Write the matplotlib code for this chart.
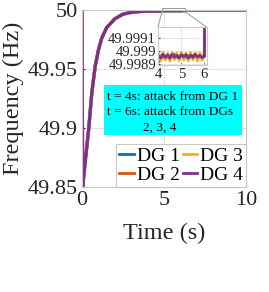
import matplotlib
matplotlib.use("Agg")
import matplotlib.pyplot as plt
from matplotlib.patches import Rectangle
from matplotlib.lines import Line2D

plt.rcParams['font.family'] = ['Liberation Serif', 'DejaVu Serif']

# values
t_main = [0.0, 0.04, 0.2, 0.4, 0.6, 0.8, 1.0, 1.2, 1.5, 2.0, 2.5, 3.0, 3.5, 4.0,
          6.0, 6.1, 7.0, 8.0, 9.0, 10.0]
f_main = [50.0, 49.85, 49.872, 49.898, 49.930, 49.952, 49.966, 49.976, 49.985,
          49.9925, 49.9965, 49.998, 49.9987, 49.999, 49.999, 50.0, 50.0, 50.0,
          50.0, 50.0]

labels = ["DG 1", "DG 2", "DG 3", "DG 4"]
colors = ["#0072BD", "#D95319", "#EDB120", "#7E2F8E"]

t_zoom = [4.0, 4.1, 4.2, 4.3, 4.4, 4.5, 4.6, 4.7, 4.8, 4.9, 5.0, 5.1, 5.2,
          5.3, 5.4, 5.5, 5.6, 5.7, 5.8, 5.9, 6.0, 6.03]
f_dg1 = [49.998915, 49.998955, 49.998960, 49.998950, 49.998965, 49.998940,
         49.998960, 49.998975, 49.998950, 49.998960, 49.998955, 49.998965,
         49.998945, 49.998960, 49.998950, 49.998965, 49.998955, 49.998960,
         49.998950, 49.998960, 49.998955, 50.0]
f_dg2 = [49.998950, 49.998965, 49.998945, 49.998960, 49.998950, 49.998965,
         49.998955, 49.998950, 49.998965, 49.998945, 49.998960, 49.998950,
         49.998965, 49.998955, 49.998960, 49.998945, 49.998960, 49.998950,
         49.998965, 49.998955, 49.998960, 50.0]
f_dg3 = [49.998985, 49.998925, 49.998990, 49.998930, 49.998982, 49.998922,
         49.998988, 49.998932, 49.998984, 49.998926, 49.998990, 49.998930,
         49.998982, 49.998924, 49.998988, 49.998930, 49.998986, 49.998922,
         49.998984, 49.998928, 49.998988, 50.0]
f_dg4 = [49.998960, 49.998946, 49.998974, 49.998950, 49.998968, 49.998944,
         49.998974, 49.998952, 49.998966, 49.998946, 49.998972, 49.998954,
         49.998972, 49.998946, 49.998968, 49.998950, 49.998974, 49.998952,
         49.998966, 49.998948, 49.998962, 50.0]
zoom_series = [f_dg1, f_dg2, f_dg3, f_dg4]

W, H = 269, 292
fig = plt.figure(figsize=(W / 100, H / 100), dpi=100)
ax = fig.add_axes([82 / W, 1 - 187 / H, 164 / W, 177 / H])

for lab, c in zip(labels, colors):
    ax.plot(t_main, f_main, color=c, lw=2.3, label=lab)

ax.set_xlim(0, 10)
ax.set_ylim(49.85, 50.0)
ax.set_xticks([0, 5, 10])
ax.set_yticks([49.85, 49.9, 49.95, 50])
ax.set_yticklabels(["49.85", "49.9", "49.95", "50"])
ax.grid(True, color="#e3e3e3", lw=0.7)
ax.tick_params(labelsize=16, colors="#262626", direction="in", length=2, pad=3)
for s in ax.spines.values():
    s.set_color("#c8c8c8")
    s.set_linewidth(0.8)
ax.set_xlabel("Time (s)", fontsize=17.5, color="#262626")
ax.set_ylabel("Frequency (Hz)", fontsize=17.5, color="#262626")
ax.xaxis.set_label_coords(0.5, -0.2)
ax.yaxis.set_label_coords(-0.355, 0.5)

leg = ax.legend(ncol=2, loc="lower right", bbox_to_anchor=(1.0, 0.0),
                borderaxespad=0, fontsize=14, handlelength=0.75,
                handletextpad=0.15, columnspacing=0.15, labelspacing=0.1,
                borderpad=0.15, fancybox=False, framealpha=1)
leg.get_frame().set_edgecolor("#c8c8c8")
leg.get_frame().set_linewidth(0.8)
for line in leg.get_lines():
    line.set_linewidth(2.0)

# inset
axi = fig.add_axes([157.5 / W, 1 - 65 / H, 49.2 / W, 38 / H])
for f, lab, c in zip(zoom_series, labels, colors):
    axi.plot(t_zoom, f, color=c, lw=2.0)
axi.set_xlim(3.96, 6.1)
axi.set_ylim(49.99889, 49.99919)
axi.set_xticks([4, 5, 6])
axi.set_yticks([49.9989, 49.999, 49.9991])
axi.set_yticklabels(["49.9989", "49.999", "49.9991"])
axi.grid(True, color="#e3e3e3", lw=0.6)
axi.tick_params(labelsize=10.5, colors="#262626", direction="in", length=1.5, pad=2)
axi.tick_params(axis="y", pad=1)
for s in axi.spines.values():
    s.set_color("#c8c8c8")
    s.set_linewidth(0.8)

# zoom marker and connectors
def fx(px):
    return px / W

def fy(py):
    return 1 - py / H

fig.patches.append(Rectangle((fx(162), fy(11.7)), fx(185) - fx(162), 3.4 / H,
                             transform=fig.transFigure, fill=False,
                             edgecolor="#9a9a9a", lw=0.7))
fig.lines.append(Line2D([fx(158), fx(162)], [fy(27), fy(11.7)],
                        transform=fig.transFigure, color="#9a9a9a", lw=0.7))
fig.lines.append(Line2D([fx(206.5), fx(185)], [fy(27), fy(11.7)],
                        transform=fig.transFigure, color="#9a9a9a", lw=0.7))

# annotation box
fig.patches.append(Rectangle((fx(104), fy(135.3)), fx(241.7) - fx(104), 50 / H,
                             transform=fig.transFigure, facecolor="#00ffff",
                             edgecolor="none", zorder=5))
fig.text(fx(106.7), fy(100.3), "t = 4s: attack from DG 1", fontsize=9.6,
         va="baseline", ha="left", zorder=6)
fig.text(fx(106.7), fy(115.3), "t = 6s: attack from DGs", fontsize=9.6,
         va="baseline", ha="left", zorder=6)
fig.text(fx(143), fy(130.3), "2, 3, 4", fontsize=9.6,
         va="baseline", ha="left", zorder=6)

fig.savefig("out.png", dpi=100)
